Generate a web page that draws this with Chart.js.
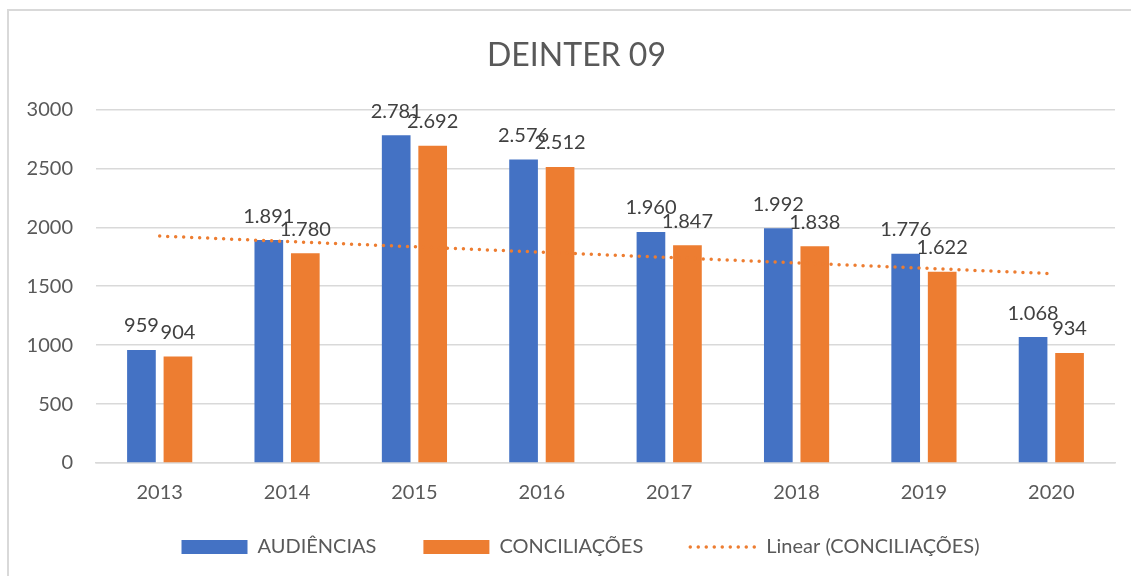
<!DOCTYPE html>
<html>
<head>
<meta charset="utf-8">
<script src="https://cdn.jsdelivr.net/npm/chart.js@4/dist/chart.umd.min.js"></script>
<style>
  html, body { margin: 0; padding: 0; background: #fff; }
  #wrap { width: 1131px; height: 576px; }
</style>
</head>
<body>
<div id="wrap"><canvas id="chart" width="1131" height="576"></canvas></div>
<script>
const years = ['2013', '2014', '2015', '2016', '2017', '2018', '2019', '2020']
const audiencias = [959, 1891, 2781, 2576, 1960, 1992, 1776, 1068]
const conciliacoes = [904, 1780, 2692, 2512, 1847, 1838, 1622, 934]
// trendline end points (Excel linear trend)
const trendConciliacoes = [1925, null, null, null, null, null, null, 1607]
const yTicks = [0, 500, 1000, 1500, 2000, 2500, 3000]

const BLUE = '#4472C4'
const ORANGE = '#ED7D31'
const GREY_TEXT = '#595959'
const GRID = '#d9d9d9'
const FONT = 'Lato, "Open Sans", sans-serif'

// "2781" -> "2.781"
const fmt = v => String(v).replace(/\B(?=(\d{3})+(?!\d))/g, '.')

const frame = {
    id: 'frame',
    beforeDraw(chart) {
        const ctx = chart.ctx
        ctx.save()
        ctx.fillStyle = '#fff'
        ctx.fillRect(0, 0, chart.width, chart.height)
        ctx.strokeStyle = GRID
        ctx.lineWidth = 2
        ctx.strokeRect(8, 10, chart.width + 50, chart.height + 50)
        ctx.restore()
    }
}

// legend keeps its wide horizontal gaps but gets a shorter box,
// then legend and title are nudged to where the original has them
const boxFix = {
    id: 'boxFix',
    beforeLayout(chart) {
        const lg = chart.legend
        if (lg && !lg._fixed) {
            const fit = lg.fit.bind(lg)
            lg.fit = function () { fit(); this.height = 71 }
            lg._fixed = true
        }
    },
    afterLayout(chart) {
        const lg = chart.legend
        lg.left += 23; lg.right += 23
        lg.top -= 15; lg.bottom -= 15
        const t = chart.titleBlock
        t.left += 19; t.right += 19
    }
}

const barLabels = {
    id: 'barLabels',
    afterDatasetsDraw(chart) {
        const ctx = chart.ctx
        ctx.save()
        ctx.font = '20px ' + FONT
        ctx.fillStyle = '#404040'
        ctx.textAlign = 'center'
        ctx.textBaseline = 'middle'
        chart.data.datasets.forEach((ds, i) => {
            if (ds.type === 'line') return
            const meta = chart.getDatasetMeta(i)
            meta.data.forEach((bar, j) => {
                ctx.fillText(fmt(ds.data[j]), bar.x, bar.y - 24)
            })
        })
        ctx.restore()
    }
}

const data = {
    labels: years,
    datasets: [
        {
            type: 'bar',
            label: 'AUDIÊNCIAS',
            data: audiencias,
            backgroundColor: BLUE,
            order: 2,
            categoryPercentage: 0.573,
            barPercentage: 0.786
        },
        {
            type: 'bar',
            label: 'CONCILIAÇÕES',
            data: conciliacoes,
            backgroundColor: ORANGE,
            order: 2,
            categoryPercentage: 0.573,
            barPercentage: 0.786
        },
        {
            type: 'line',
            label: 'Linear (CONCILIAÇÕES)',
            data: trendConciliacoes,
            borderColor: ORANGE,
            backgroundColor: ORANGE,
            borderWidth: 3.5,
            borderDash: [0, 8],
            borderCapStyle: 'round',
            pointRadius: 0,
            spanGaps: true,
            fill: false,
            order: 1
        }
    ]
}

const config = {
    data: data,
    plugins: [frame, boxFix, barLabels],
    options: {
        responsive: false,
        animation: false,
        layout: { padding: { left: 0, right: 16, top: 0, bottom: 0 } },
        plugins: {
            tooltip: { enabled: false },
            title: {
                display: true,
                text: 'DEINTER 09',
                color: GREY_TEXT,
                font: { family: FONT, size: 32, weight: 'normal', lineHeight: 1.2 },
                padding: { top: 36, bottom: 35 }
            },
            legend: {
                position: 'bottom',
                labels: {
                    color: GREY_TEXT,
                    font: { family: FONT, size: 20 },
                    padding: 47,
                    usePointStyle: true,
                    pointStyleWidth: 66,
                    boxHeight: 14,
                    sort: (a, b) => a.datasetIndex - b.datasetIndex,
                    generateLabels(chart) {
                        const items = Chart.defaults.plugins.legend.labels.generateLabels(chart)
                        items.forEach(it => {
                            const ds = chart.data.datasets[it.datasetIndex]
                            if (ds.type === 'line') {
                                it.pointStyle = 'line'
                                it.lineDash = [0, 8]
                                it.lineCap = 'round'
                                it.lineWidth = 3.5
                                it.strokeStyle = ds.borderColor
                            } else {
                                it.pointStyle = 'rect'
                                it.lineWidth = 0
                                it.fillStyle = ds.backgroundColor
                            }
                        })
                        return items
                    }
                }
            }
        },
        scales: {
            x: {
                grid: { display: false, drawTicks: false },
                border: { display: true, color: GRID, width: 1.5 },
                ticks: { color: GREY_TEXT, font: { family: FONT, size: 20, lineHeight: 1.2 }, padding: 18 },
                afterFit(scale) { scale.height = 42 }
            },
            y: {
                min: 0,
                max: 3000,
                grid: { color: GRID, lineWidth: 1.5, drawTicks: false },
                border: { display: false },
                afterBuildTicks(scale) { scale.ticks = yTicks.map(v => ({ value: v })) },
                ticks: {
                    color: GREY_TEXT,
                    font: { family: FONT, size: 20 },
                    padding: 23,
                    callback: v => String(v)
                },
                afterFit(scale) { scale.width = 96 }
            }
        }
    }
}

new Chart(document.getElementById('chart'), config)
</script>
</body>
</html>
